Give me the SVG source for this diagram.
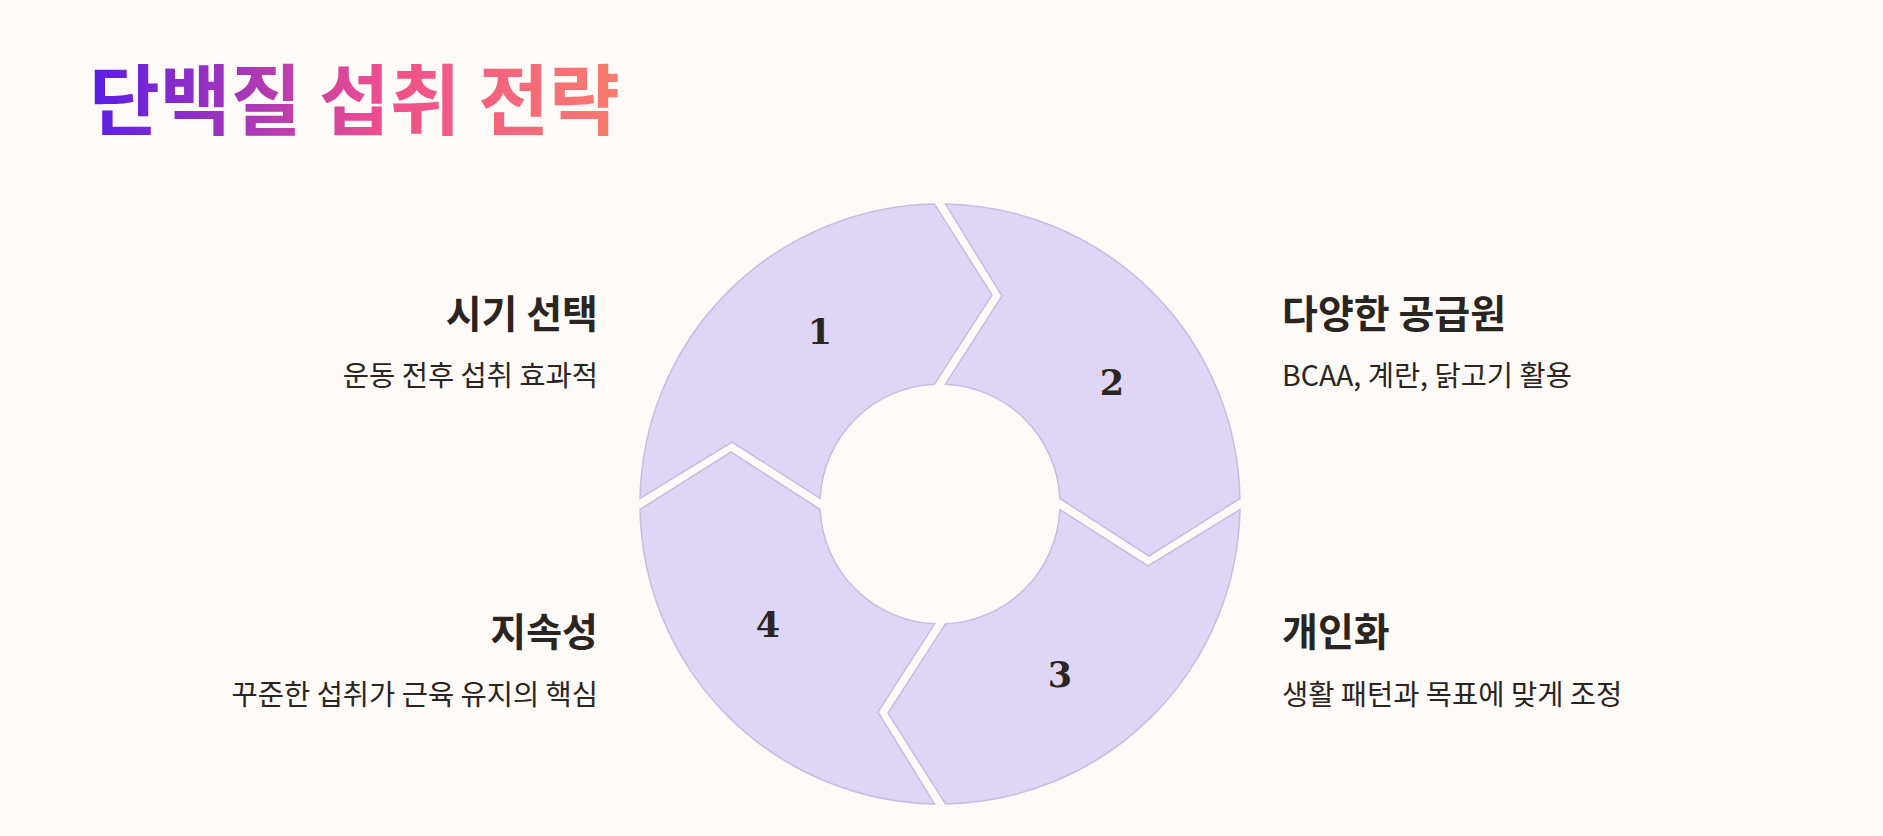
<svg xmlns="http://www.w3.org/2000/svg" width="1883" height="836" viewBox="0 0 1883 836">
<defs>
<linearGradient id="titleGrad" x1="90" y1="0" x2="620" y2="0" gradientUnits="userSpaceOnUse">
<stop offset="0" stop-color="#5a1de6"/>
<stop offset="0.55" stop-color="#ee4e8e"/>
<stop offset="1" stop-color="#f87c6c"/>
</linearGradient>
<style>
.seg{fill:#ded6f4;stroke:#c6bce4;stroke-width:1.5}
.num{font-family:"DejaVu Serif","Liberation Serif",serif;font-weight:bold;font-size:35px;fill:#2b2522;text-anchor:middle}
.head{font-family:"Noto Sans CJK KR",sans-serif;font-weight:bold;font-size:39px;fill:#2b2522}
.desc{font-family:"Noto Sans CJK KR",sans-serif;font-size:28.5px;fill:#2b2522}
.l{text-anchor:end}
.r{text-anchor:start}
</style>
</defs>
<rect width="1883" height="836" fill="#fefaf7"/>
<text id="title" x="89" y="129" font-family="Noto Sans CJK KR, sans-serif" font-weight="bold" font-size="77" fill="url(#titleGrad)">단백질 섭취 전략</text>
<g id="connectors"></g>
<g id="node1">
<path class="seg" d="M934.5 204.05 L992 295 L934.5 384.13 A120 120 0 0 0 820.13 498.5 L732 442 L640.05 498.5 A300 300 0 0 1 934.5 204.05 Z"/>
<text class="num" x="820" y="344">1</text>
</g>
<g id="node2">
<path class="seg" d="M1239.95 498.5 L1149 556 L1059.87 498.5 A120 120 0 0 0 945.5 384.13 L1002 296 L945.5 204.05 A300 300 0 0 1 1239.95 498.5 Z"/>
<text class="num" x="1112" y="395">2</text>
</g>
<g id="node3">
<path class="seg" d="M945.5 803.95 L888 713 L945.5 623.87 A120 120 0 0 0 1059.87 509.5 L1148 566 L1239.95 509.5 A300 300 0 0 1 945.5 803.95 Z"/>
<text class="num" x="1060" y="687">3</text>
</g>
<g id="node4">
<path class="seg" d="M640.05 509.5 L731 452 L820.13 509.5 A120 120 0 0 0 934.5 623.87 L878 712 L934.5 803.95 A300 300 0 0 1 640.05 509.5 Z"/>
<text class="num" x="768" y="637">4</text>
</g>
<g id="label1">
<text class="head l" x="598" y="328">시기 선택</text>
<text class="desc l" x="598" y="386">운동 전후 섭취 효과적</text>
</g>
<g id="label2">
<text class="head r" x="1282" y="328">다양한 공급원</text>
<text class="desc r" x="1282" y="386">BCAA, 계란, 닭고기 활용</text>
</g>
<g id="label3">
<text class="head r" x="1282" y="646">개인화</text>
<text class="desc r" x="1282" y="705">생활 패턴과 목표에 맞게 조정</text>
</g>
<g id="label4">
<text class="head l" x="598" y="646">지속성</text>
<text class="desc l" x="598" y="705">꾸준한 섭취가 근육 유지의 핵심</text>
</g>
</svg>
